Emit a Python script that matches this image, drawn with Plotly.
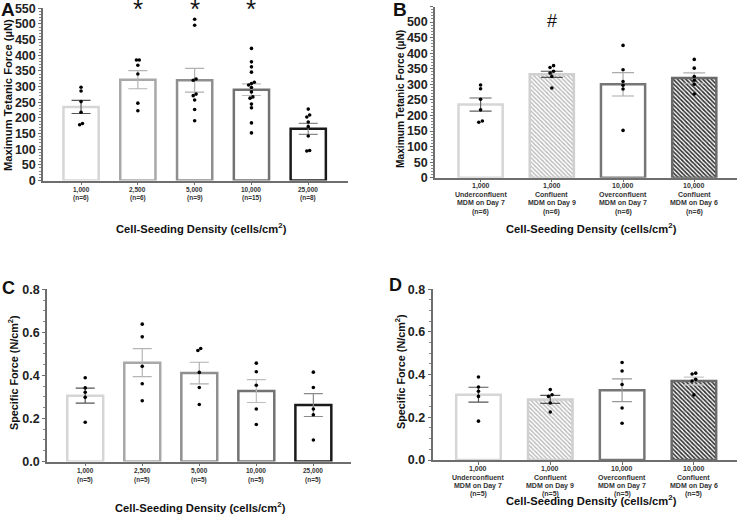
import plotly.graph_objects as go

W, H = 741, 515

# ---------------- data ----------------
# Panel A: maximum tetanic force by seeding density
a_cats = ["1,000<br>(n=6)", "2,500<br>(n=6)", "5,000<br>(n=9)", "10,000<br>(n=15)", "25,000<br>(n=8)"]
a_mean = [235, 322, 320, 290, 165]
a_sem = [21, 29, 38, 18.5, 17.5]
a_pts = [
    [298, 286, 252, 218, 182, 178],
    [385, 385, 368, 340, 247, 223],
    [515, 496, 324, 320, 276, 271, 257, 227, 191],
    [422, 379, 363, 346, 314, 310, 305, 297, 283, 267, 263, 244, 232, 184, 152],
    [228, 209, 203, 187, 172, 142, 96, 94],
]
a_sig = ["", "*", "*", "*", ""]

# Panel B: maximum tetanic force by confluence
b_cats = [
    "1,000<br>Underconfluent<br>MDM on Day 7<br>(n=6)",
    "1,000<br>Confluent<br>MDM on Day 9<br>(n=6)",
    "10,000<br>Overconfluent<br>MDM on Day 7<br>(n=6)",
    "10,000<br>Confluent<br>MDM on Day 6<br>(n=6)",
]
b_mean = [235, 332, 300, 320]
b_sem = [21, 10, 37.5, 16.5]
b_pts = [
    [298, 286, 252, 218, 182, 178],
    [360, 354, 342, 336, 325, 288],
    [425, 347, 309, 297, 285, 152],
    [380, 352, 325, 313, 300, 269],
]
b_sig = ["", "#", "", ""]

# Panel C: specific force by seeding density
c_cats = ["1,000<br>(n=5)", "2,500<br>(n=5)", "5,000<br>(n=5)", "10,000<br>(n=5)", "25,000<br>(n=5)"]
c_mean = [0.306, 0.459, 0.411, 0.327, 0.262]
c_sem = [0.035, 0.065, 0.050, 0.053, 0.053]
c_pts = [
    [0.389, 0.342, 0.322, 0.298, 0.182],
    [0.638, 0.579, 0.442, 0.361, 0.282],
    [0.525, 0.516, 0.414, 0.344, 0.265],
    [0.457, 0.417, 0.354, 0.244, 0.172],
    [0.415, 0.344, 0.244, 0.217, 0.100],
]

# Panel D: specific force by confluence
d_cats = [
    "1,000<br>Underconfluent<br>MDM on Day 7<br>(n=5)",
    "1,000<br>Confluent<br>MDM on Day 9<br>(n=5)",
    "10,000<br>Overconfluent<br>MDM on Day 7<br>(n=5)",
    "10,000<br>Confluent<br>MDM on Day 6<br>(n=5)",
]
d_mean = [0.306, 0.284, 0.327, 0.370]
d_sem = [0.035, 0.019, 0.053, 0.018]
d_pts = [
    [0.389, 0.342, 0.322, 0.298, 0.182],
    [0.330, 0.306, 0.298, 0.267, 0.225],
    [0.457, 0.417, 0.354, 0.244, 0.172],
    [0.407, 0.403, 0.378, 0.370, 0.305],
]

# ---------------- styles ----------------
FONT = "Liberation Sans, Arial, sans-serif"
AXC = "#6e6e6e"
LIGHT_HATCH = dict(shape="\\", fgcolor="#b8b8b8", bgcolor="white", size=3,
                   solidity=0.45, fgopacity=1)
DARK_HATCH = dict(shape="\\", fgcolor="#333333", bgcolor="white", size=3,
                  solidity=0.55, fgopacity=1)

dens_styles = [  # (outline, pattern, error colour)
    ("#d6d6d6", None, "#555555"),
    ("#a8a8a8", None, "#b5b5b5"),
    ("#8f8f8f", None, "#b0b0b0"),
    ("#727272", None, "#bdbdbd"),
    ("#1a1a1a", None, "#8a8a8a"),
]
conf_styles_b = [
    ("#d6d6d6", None, "#606060"),
    ("#d0d0d0", LIGHT_HATCH, "#555555"),
    ("#767676", None, "#aaaaaa"),
    ("#6a6a6a", DARK_HATCH, "#b0b0b0"),
]
conf_styles_d = [
    ("#d6d6d6", None, "#555555"),
    ("#d0d0d0", LIGHT_HATCH, "#555555"),
    ("#767676", None, "#999999"),
    ("#6a6a6a", DARK_HATCH, "#c8c8c8"),
]

fig = go.Figure()
layout = dict(width=W, height=H, margin=dict(l=0, r=0, t=0, b=0, autoexpand=False),
              paper_bgcolor="white", plot_bgcolor="white", showlegend=False,
              annotations=[])


def px(x):
    return x / W


def py(y):
    return 1 - y / H


def spread(vals, thresh, step):
    order = sorted(range(len(vals)), key=lambda k: vals[k])
    offs = [0.0] * len(vals)
    groups, cur = [], [order[0]]
    for k in order[1:]:
        if abs(vals[k] - vals[cur[-1]]) < thresh:
            cur.append(k)
        else:
            groups.append(cur)
            cur = [k]
    groups.append(cur)
    for g in groups:
        n = len(g)
        for j, k in enumerate(g):
            offs[k] = (j - (n - 1) / 2) * step
    return offs


def add_panel(n, cats, means, sems, pts, styles, xdom, ydom, yr, dtick, mdtick,
              xr, bw, capw, tickfmt, xfont, ytfont, sig=None, sigsize=22, sig_px=None,
              lab_off=9.0, lab_gap=8.5):
    xa = "x" if n == 1 else f"x{n}"
    ya = "y" if n == 1 else f"y{n}"
    for i, (m, s) in enumerate(zip(means, sems)):
        lc, pat, ec = styles[i]
        marker = dict(color="white", line=dict(color=lc, width=2.5))
        if pat is not None:
            marker["pattern"] = pat
        fig.add_trace(go.Bar(x=[i], y=[m], width=bw, marker=marker,
                             error_y=dict(type="data", array=[s], color=ec,
                                          thickness=1.2, width=capw),
                             xaxis=xa, yaxis=ya, hoverinfo="skip"))
    for i, vals in enumerate(pts):
        offs = spread(vals, (yr[1] - yr[0]) * 0.012, 0.05)
        fig.add_trace(go.Scatter(x=[i + o for o in offs], y=vals, mode="markers",
                                 marker=dict(size=3.6, color="black"),
                                 xaxis=xa, yaxis=ya, hoverinfo="skip", cliponaxis=False))
    xk = "xaxis" if n == 1 else f"xaxis{n}"
    yk = "yaxis" if n == 1 else f"yaxis{n}"
    layout[xk] = dict(domain=[px(xdom[0]), px(xdom[1])], range=xr, anchor=ya,
                      showline=True, linecolor=AXC, linewidth=1.5,
                      ticks="outside", ticklen=3, tickcolor=AXC,
                      tickvals=list(range(len(cats))), showticklabels=False,
                      showgrid=False, zeroline=False, fixedrange=True, automargin=False)
    layout[yk] = dict(domain=[py(ydom[0]), py(ydom[1])], range=yr, anchor=xa,
                      showline=True, linecolor=AXC, linewidth=1.5,
                      ticks="outside", ticklen=3, tickcolor=AXC, dtick=dtick, tick0=0,
                      tickformat=tickfmt,
                      tickfont=dict(family=FONT, size=ytfont, color="#222222", weight="bold"),
                      minor=dict(dtick=mdtick, ticks="outside", ticklen=2, tickcolor="#8a8a8a"),
                      showgrid=False, zeroline=False, fixedrange=True, automargin=False)
    # category labels, one line at a time
    for i, cat in enumerate(cats):
        for j, line in enumerate(cat.split("<br>")):
            layout["annotations"].append(dict(
                x=i, xref=xa, y=py(ydom[0] + lab_off + j * lab_gap), yref="paper",
                text=line, showarrow=False, xanchor="center", yanchor="middle",
                font=dict(family=FONT, size=xfont, color="#333333", weight="bold")))
    if sig:
        for i, t in enumerate(sig):
            if t:
                layout["annotations"].append(dict(
                    x=i, y=py(sig_px), xref=xa, yref="paper", text=t, showarrow=False,
                    yanchor="middle", font=dict(family=FONT, size=sigsize, color="#111111")))


add_panel(1, a_cats, a_mean, a_sem, a_pts, dens_styles,
          (43, 348), (180.5, 8.3), [0, 550], 50, 10, [-0.67, 4.70], 0.62, 9.5, "d",
          6.5, 12.5, sig=a_sig, sigsize=26, sig_px=9, lab_off=9.5, lab_gap=8.0)
add_panel(2, b_cats, b_mean, b_sem, b_pts, conf_styles_b,
          (435, 737), (177.7, 6.5), [0, 550], 50, 10, [-0.64, 3.60], 0.62, 11, "d",
          7, 12.5, sig=b_sig, sigsize=18, sig_px=21, lab_off=8.2, lab_gap=8.8)
add_panel(3, c_cats, c_mean, c_sem, c_pts, dens_styles,
          (47, 351), (461.5, 289.3), [0, 0.8], 0.2, 0.05, [-0.67, 4.66], 0.63, 9.5, ".1f",
          6.5, 12.5, lab_off=9.0, lab_gap=9.0)
add_panel(4, d_cats, d_mean, d_sem, d_pts, conf_styles_d,
          (432.5, 737), (460, 289.3), [0, 0.8], 0.2, 0.05, [-0.64, 3.60], 0.62, 10, ".1f",
          7, 12.5, lab_off=8.8, lab_gap=8.4)


def ann(text, x, y, size, angle=0, color="#111111"):
    layout["annotations"].append(dict(
        text=text, x=px(x), y=py(y), xref="paper", yref="paper", showarrow=False,
        textangle=angle, xanchor="center", yanchor="middle",
        font=dict(family=FONT, size=size, color=color, weight="bold")))


# panel letters
ann("A", 8, 9, 19)
ann("B", 400, 9, 19)
ann("C", 8, 288, 18)
ann("D", 395, 285, 18)

# y-axis titles
ann("Maximum Tetanic Force (µN)", 8, 95, 11.2, -90)
ann("Maximum Tetanic Force (µN)", 400, 99, 10.2, -90)
ann("Specific Force (N/cm<sup>2</sup>)", 13, 373, 10.8, -90)
ann("Specific Force (N/cm<sup>2</sup>)", 400, 372, 10.8, -90)

# x-axis titles
ann("Cell-Seeding Density (cells/cm<sup>2</sup>)", 201, 228, 11.2)
ann("Cell-Seeding Density (cells/cm<sup>2</sup>)", 591, 228, 11.2)
ann("Cell-Seeding Density (cells/cm<sup>2</sup>)", 200, 507, 11.2)
ann("Cell-Seeding Density (cells/cm<sup>2</sup>)", 591, 499.5, 11.2)

fig.update_layout(**layout)
fig.write_html("out.html", config={"displayModeBar": False},
               post_script="document.body.style.margin='0';document.body.style.overflow='hidden';")
